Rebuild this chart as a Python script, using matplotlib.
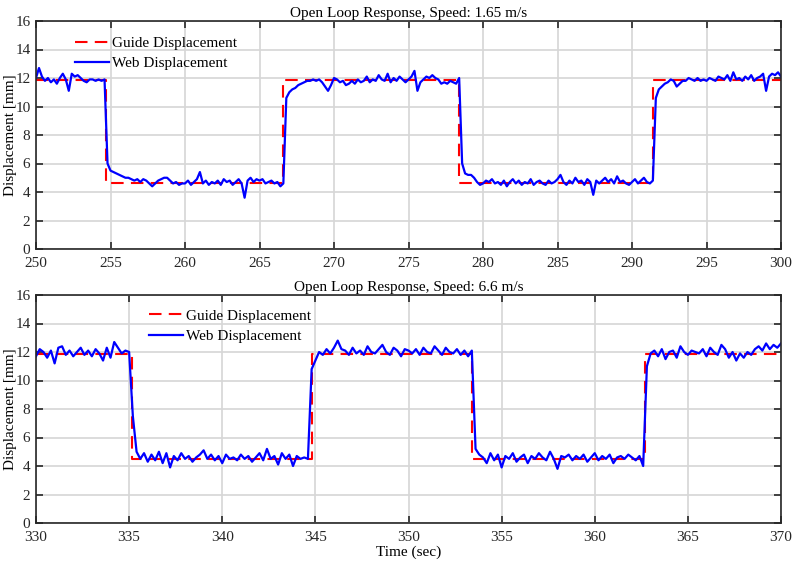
import numpy as np
import matplotlib
matplotlib.use("Agg")
import matplotlib.pyplot as plt

plt.rcParams['font.family'] = ['Liberation Serif', 'DejaVu Serif']
plt.rcParams['font.size'] = 11

# ---- top run: 1.65 m/s, web sampled every 0.2 s from 250 to 300 ----
top_t0, top_dt = 250.0, 0.2
top_web = [
    12.0, 12.7, 12.1, 11.8, 12.0, 11.7, 11.9, 11.6, 12.0, 12.3, 11.9, 11.1, 12.3, 12.1, 12.2, 12.0, 11.8, 11.7, 11.9, 11.9, 11.8, 11.9, 11.8, 11.9, 6.0,
    5.5, 5.4, 5.3, 5.2, 5.1, 5.0, 5.0, 4.9, 4.8, 4.9, 4.7, 4.9, 4.8, 4.6, 4.4, 4.6, 4.8, 4.9, 5.0, 5.0, 4.8, 4.6, 4.7, 4.5, 4.6,
    4.6, 4.8, 4.5, 4.7, 4.9, 5.4, 4.6, 4.8, 4.5, 4.7, 4.6, 4.8, 4.5, 4.9, 4.7, 4.8, 4.5, 4.7, 4.9, 4.6, 3.6, 4.8, 5.0, 4.7, 4.9,
    4.8, 4.9, 4.6, 4.7, 4.8, 4.6, 4.7, 4.4, 4.6, 10.6, 11.0, 11.2, 11.3, 11.5, 11.6, 11.7, 11.8, 11.8, 11.9, 11.8, 11.9, 11.7, 11.4, 11.1, 11.5,
    12.0, 11.9, 11.7, 11.8, 11.5, 11.6, 11.8, 11.6, 11.9, 11.7, 11.8, 12.1, 11.7, 11.9, 11.8, 12.2, 11.9, 11.8, 12.3, 11.7, 12.0, 11.8, 12.1, 11.9, 11.7,
    11.9, 12.1, 12.5, 11.1, 11.7, 11.9, 12.1, 12.0, 12.2, 12.0, 11.9, 11.6, 11.7, 11.6, 11.8, 11.7, 11.6, 12.0, 6.0, 5.3, 5.2, 5.2, 5.0, 4.7, 4.5,
    4.6, 4.8, 4.7, 4.9, 4.6, 4.7, 4.5, 4.8, 4.4, 4.7, 4.9, 4.6, 4.8, 4.5, 4.7, 4.6, 4.9, 4.5, 4.7, 4.8, 4.6, 4.5, 4.8, 4.6, 4.7,
    4.9, 5.2, 4.7, 4.5, 4.8, 4.6, 5.0, 4.7, 4.8, 4.5, 4.9, 4.7, 3.8, 4.8, 4.6, 4.8, 5.0, 4.7, 4.9, 4.6, 5.1, 4.7, 4.8, 4.6, 4.5,
    4.7, 4.9, 4.6, 4.8, 5.0, 4.7, 4.6, 4.8, 10.6, 11.2, 11.4, 11.6, 11.7, 11.9, 11.8, 11.4, 11.6, 11.8, 11.8, 12.0, 11.9, 11.8, 12.0, 11.8, 11.9,
    11.8, 12.0, 11.9, 11.8, 12.1, 12.0, 11.9, 12.2, 11.8, 12.4, 11.9, 12.0, 11.8, 12.1, 11.9, 12.2, 11.8, 12.0, 12.1, 12.3, 11.1, 12.1, 12.3, 12.2, 12.4,
    12.1,
]
top_guide_t = [250.0, 254.68, 266.6, 278.41, 291.43, 300.0]
top_guide_y = [11.85, 4.6, 11.85, 4.6, 11.85, 11.85]

# ---- bottom run: 6.6 m/s, web sampled every 0.2 s from 330 to 370 ----
bot_t0, bot_dt = 330.0, 0.2
bot_web = [
    11.7, 12.2, 12.0, 11.6, 12.1, 11.2, 12.3, 12.4, 11.8, 12.1, 11.7, 12.0, 12.3, 11.8, 12.1, 11.7, 12.2, 11.9, 11.4, 12.3, 11.6, 12.7, 12.3, 11.9, 12.1,
    12.0, 7.5, 5.0, 4.5, 4.9, 4.3, 4.8, 4.4, 5.0, 4.2, 4.9, 3.9, 4.7, 4.4, 4.9, 4.5, 4.7, 4.3, 4.6, 4.8, 5.1, 4.5, 4.8, 4.4, 4.7,
    4.2, 4.8, 4.5, 4.6, 4.4, 4.8, 4.5, 4.7, 4.3, 4.6, 4.9, 4.4, 5.2, 4.5, 4.7, 4.1, 4.9, 4.5, 4.8, 4.0, 4.7, 4.5, 4.6, 4.5, 10.8,
    11.4, 12.0, 11.8, 12.2, 11.9, 12.3, 12.8, 12.2, 12.1, 11.8, 12.3, 11.9, 12.1, 11.8, 12.4, 12.0, 11.9, 12.2, 12.5, 12.0, 11.8, 12.3, 12.1, 11.7, 12.2,
    12.1, 11.9, 12.2, 11.8, 12.3, 12.0, 11.9, 12.4, 12.1, 11.8, 12.3, 12.0, 11.9, 12.2, 11.8, 12.1, 11.7, 12.1, 5.2, 4.8, 4.6, 4.2, 4.9, 4.4, 4.8,
    3.9, 4.7, 4.5, 4.9, 4.3, 4.6, 4.8, 4.2, 4.7, 4.5, 4.9, 4.6, 4.4, 5.0, 4.5, 3.8, 4.7, 4.6, 4.8, 4.4, 4.7, 4.5, 4.8, 4.3, 4.6,
    4.9, 4.4, 4.7, 4.5, 4.8, 4.2, 4.6, 4.7, 4.5, 4.8, 4.6, 4.4, 4.7, 4.0, 11.0, 11.9, 12.1, 11.7, 12.2, 11.5, 12.0, 12.1, 11.6, 12.4, 12.0,
    11.8, 12.1, 12.0, 11.9, 12.2, 11.7, 12.3, 12.0, 11.8, 12.5, 12.2, 11.6, 12.0, 11.4, 11.9, 11.6, 12.0, 11.8, 12.2, 12.4, 12.1, 12.6, 12.2, 12.5, 12.3,
    12.6,
]
bot_guide_t = [330.0, 335.17, 344.8, 353.41, 362.7, 370.0]
bot_guide_y = [11.85, 4.5, 11.85, 4.5, 11.85, 11.85]

titles = ['Open Loop Response, Speed: 1.65 m/s', 'Open Loop Response, Speed: 6.6 m/s']


def draw_panel(ax, t0, dt, web, gt, gy, xlim, xticks, title, leg_x, leg_y):
    t = t0 + dt * np.arange(len(web))
    ax.step(gt, gy, where='post', color='red', linestyle=(0, (6, 3.5)), linewidth=1.5,
            label='Guide Displacement')
    ax.plot(t, web, color='blue', linewidth=1.6, label='Web Displacement')
    ax.set_xlim(xlim)
    ax.set_ylim(0, 16)
    ax.set_xticks(xticks)
    ax.set_yticks(range(0, 17, 2))
    ax.grid(True, color='#d6d6d6', linewidth=1.2)
    ax.set_axisbelow(True)
    ax.tick_params(direction='in', top=True, right=True, length=5, width=1.2, pad=4,
                   color='#262626', labelcolor='#262626')
    ax.tick_params(axis='x', pad=6)
    for s in ax.spines.values():
        s.set_linewidth(1.2)
        s.set_color('#262626')
    ax.set_ylabel('Displacement [mm]')
    ax.yaxis.set_label_coords(-0.026, 0.5)
    ax.set_title(title, pad=3, fontsize=11)
    ax.legend(loc='upper left', bbox_to_anchor=(leg_x, leg_y), frameon=False,
              handlelength=2.2, handletextpad=0.22, labelspacing=0.45, borderaxespad=0)


fig = plt.figure(figsize=(7.92, 5.62), dpi=100)
ax1 = fig.add_axes([36 / 792, 1 - 249 / 562, 745 / 792, 228 / 562])
ax2 = fig.add_axes([36 / 792, 1 - 523 / 562, 745 / 792, 228 / 562])

draw_panel(ax1, top_t0, top_dt, top_web, top_guide_t, top_guide_y,
           (250, 300), range(250, 301, 5), titles[0], 0.044, 0.96)
draw_panel(ax2, bot_t0, bot_dt, bot_web, bot_guide_t, bot_guide_y,
           (330, 370), range(330, 371, 5), titles[1], 0.144, 0.965)
ax2.set_xlabel('Time (sec)', labelpad=1)

fig.savefig('out.png', dpi=100)
